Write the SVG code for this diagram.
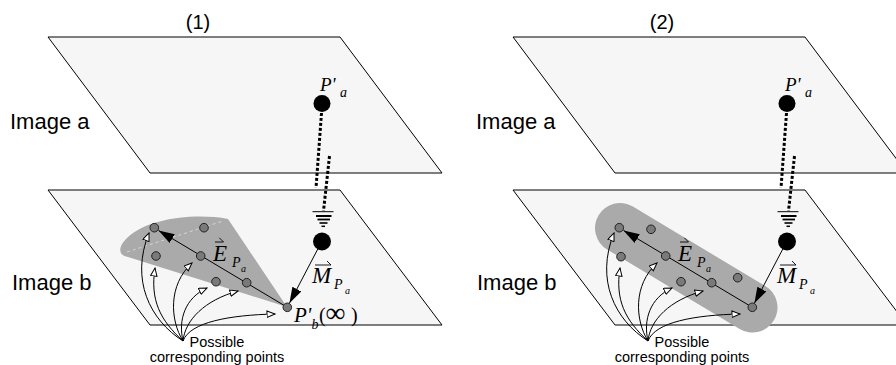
<svg xmlns="http://www.w3.org/2000/svg" width="896" height="365" viewBox="0 0 896 365">
<defs>
<style>
.plane{fill:#f6f6f6;stroke:#000;stroke-width:1}
.lbl{font-family:"Liberation Sans",Arial,sans-serif;font-size:22px;fill:#000}
.ttl{font-family:"Liberation Sans",Arial,sans-serif;font-size:20px;fill:#000;text-anchor:middle}
.cap{font-family:"Liberation Sans",Arial,sans-serif;font-size:14.5px;fill:#000;text-anchor:middle}
.math{font-family:"Liberation Serif","Times New Roman",serif;font-style:italic;fill:#000}
.rom{font-family:"Liberation Serif","Times New Roman",serif;fill:#000}
.dot{fill:#7a7a7a;stroke:#222;stroke-width:1}
.bdot{fill:#000}
.shade{fill:#aaaaaa}
.cand{fill:none;stroke:#000;stroke-width:1;marker-end:url(#open)}
.vec{fill:none;stroke:#000;stroke-width:1;marker-end:url(#solid)}
.dash{fill:none;stroke:#000;stroke-width:3;stroke-dasharray:3 2}
.bar{stroke:#000;fill:none}
.over{fill:none;stroke:#000;stroke-width:0.9}
.seam{fill:none;stroke:#fff;stroke-opacity:0.5;stroke-width:1;stroke-dasharray:3 3}
</style>
<marker id="open" markerUnits="userSpaceOnUse" markerWidth="10" markerHeight="8" refX="8.5" refY="3.75" orient="auto"><path d="M0.5,0.5 L8.5,3.75 L0.5,7 Z" fill="#fff" stroke="#000" stroke-width="1"/></marker>
<marker id="solid" markerUnits="userSpaceOnUse" markerWidth="17" markerHeight="11" refX="16" refY="5" orient="auto"><path d="M0,0 L16,5 L0,10 Z" fill="#000"/></marker>
</defs>

<!-- Panel 1 -->
<text class="ttl" x="198" y="29">(1)</text>
<g id="imageA1"><polygon class="plane" points="48,37 340,37 442,173 150,173"/><text class="lbl" x="10" y="129">Image a</text></g>
<g id="imageB1"><polygon class="plane" points="48,190 340,190 442,325 150,325"/><text class="lbl" x="12" y="290">Image b</text></g>
<g id="cone1"><path class="shade" d="M287,307 L228,219 C195,213 148,218 127,238 C116,249 120,256 128,257 Z"/><path class="seam" d="M127,252 L223,221"/></g>

<g id="connectors1">
<path class="dash" d="M321.5,113 L316,188"/>
<path class="dash" d="M329.5,156 L323.5,211"/>
<path class="bar" stroke-width="1" d="M312.5,211.7 H333.5"/>
<path class="bar" stroke-width="2" d="M316,216 H331.5"/>
<path class="bar" stroke-width="1.8" d="M317.5,219.5 H330"/>
<path class="bar" stroke-width="1.6" d="M319.5,223 H327.5"/>
<path class="bar" stroke-width="1.5" d="M321.5,226.3 H325"/>
<path class="vec" d="M287.3,307.3 L158.5,230.4"/>
<path class="vec" d="M317.8,249 L289.4,303.3"/>
<path class="cand" d="M183,341 C150,320 130,280 149,233"/>
<path class="cand" d="M183,341 C160,320 150,300 155,268"/>
<path class="cand" d="M183,341 C170,320 168,285 192,263"/>
<path class="cand" d="M183,341 C178,320 185,298 207,288"/>
<path class="cand" d="M183,341 C185,320 205,300 238,291"/>
<path class="cand" d="M183,341 C190,322 230,315 275,314"/>
</g>

<g id="Pa1"><circle class="bdot" cx="322" cy="103.5" r="8.5"/><text class="math" x="320" y="90.5" font-size="19">P'</text><text class="math" x="340" y="97" font-size="14">a</text></g>
<g id="Mdot1"><circle class="bdot" cx="322" cy="241.5" r="9"/></g>
<g id="pts1">
<circle class="dot" cx="154.3" cy="227.7" r="4.3"/>
<circle class="dot" cx="204" cy="227.7" r="4.3"/>
<circle class="dot" cx="156" cy="256" r="4.3"/>
<circle class="dot" cx="200.7" cy="256" r="4.3"/>
<circle class="dot" cx="216" cy="281.7" r="4.3"/>
<circle class="dot" cx="246.7" cy="282.7" r="4.3"/>
</g>
<g id="Pb1"><circle class="dot" cx="287.3" cy="307.3" r="4.3"/>
<text class="math" x="294" y="322" font-size="21">P'</text><text class="math" x="311.5" y="329" font-size="14">b</text>
<text class="rom" x="319" y="322" font-size="20">(</text><text class="rom" x="325.5" y="322" font-size="28">∞</text><text class="rom" x="351" y="322" font-size="20">)</text></g>
<g id="Elabel1"><text class="math" x="213" y="260.5" font-size="23">E</text><path class="over" d="M215,242 H223.5 M219.3,237.8 L223.5,242"/><text class="math" x="232" y="267" font-size="14">P</text><text class="math" x="241" y="272" font-size="10">a</text></g>
<g id="Mlabel1"><text class="math" x="312" y="282.5" font-size="23">M</text><path class="over" d="M315,265 H331 M327,261 L331,265"/><text class="math" x="334" y="288.5" font-size="14">P</text><text class="math" x="345" y="293.5" font-size="10">a</text></g>
<g id="caption1"><text class="cap" x="217" y="347">Possible</text><text class="cap" x="217" y="362">corresponding points</text></g>

<!-- Panel 2 -->
<text class="ttl" x="662" y="29">(2)</text>
<g id="imageA2"><polygon class="plane" points="513,37 805,37 907,173 615,173"/><text class="lbl" x="476" y="129">Image a</text></g>
<g id="imageB2"><polygon class="plane" points="513,190 805,190 907,325 615,325"/><text class="lbl" x="477" y="290">Image b</text></g>
<g id="band2"><path d="M620,228 L752.5,307.5" stroke="#aaaaaa" stroke-width="50" stroke-linecap="round" fill="none"/></g>

<g id="connectors2" transform="translate(465,0)">
<path class="dash" d="M321.5,113 L316,188"/>
<path class="dash" d="M329.5,156 L323.5,211"/>
<path class="bar" stroke-width="1" d="M312.5,211.7 H333.5"/>
<path class="bar" stroke-width="2" d="M316,216 H331.5"/>
<path class="bar" stroke-width="1.8" d="M317.5,219.5 H330"/>
<path class="bar" stroke-width="1.6" d="M319.5,223 H327.5"/>
<path class="bar" stroke-width="1.5" d="M321.5,226.3 H325"/>
<path class="vec" d="M287.3,307.3 L158.5,230.4"/>
<path class="vec" d="M317.8,249 L289.4,303.3"/>
<path class="cand" d="M183,341 C150,320 130,280 149,233"/>
<path class="cand" d="M183,341 C160,320 150,300 155,268"/>
<path class="cand" d="M183,341 C170,320 168,285 192,263"/>
<path class="cand" d="M183,341 C178,320 185,298 207,288"/>
<path class="cand" d="M183,341 C185,320 205,300 238,291"/>
<path class="cand" d="M183,341 C190,322 230,315 275,314"/>
</g>

<g id="Pa2"><circle class="bdot" cx="787" cy="103.5" r="8.5"/><text class="math" x="785" y="90.5" font-size="19">P'</text><text class="math" x="805" y="97" font-size="14">a</text></g>
<g id="Mdot2"><circle class="bdot" cx="787" cy="241.5" r="9"/></g>
<g id="pts2">
<circle class="dot" cx="619.3" cy="227.7" r="4.3"/>
<circle class="dot" cx="651" cy="229.3" r="4.3"/>
<circle class="dot" cx="621" cy="256.7" r="4.3"/>
<circle class="dot" cx="665.7" cy="256" r="4.3"/>
<circle class="dot" cx="681" cy="281.7" r="4.3"/>
<circle class="dot" cx="711.7" cy="282.7" r="4.3"/>
<circle class="dot" cx="737.7" cy="277.7" r="4.3"/>
</g>
<g id="Pb2"><circle class="dot" cx="752.3" cy="307.3" r="4.3"/></g>
<g id="Elabel2"><text class="math" x="678" y="260.5" font-size="23">E</text><path class="over" d="M680,242 H688.5 M684.3,237.8 L688.5,242"/><text class="math" x="697" y="267" font-size="14">P</text><text class="math" x="706" y="272" font-size="10">a</text></g>
<g id="Mlabel2"><text class="math" x="777" y="282.5" font-size="23">M</text><path class="over" d="M780,265 H796 M792,261 L796,265"/><text class="math" x="799" y="288.5" font-size="14">P</text><text class="math" x="810" y="293.5" font-size="10">a</text></g>
<g id="caption2"><text class="cap" x="682" y="347">Possible</text><text class="cap" x="682" y="362">corresponding points</text></g>
</svg>
